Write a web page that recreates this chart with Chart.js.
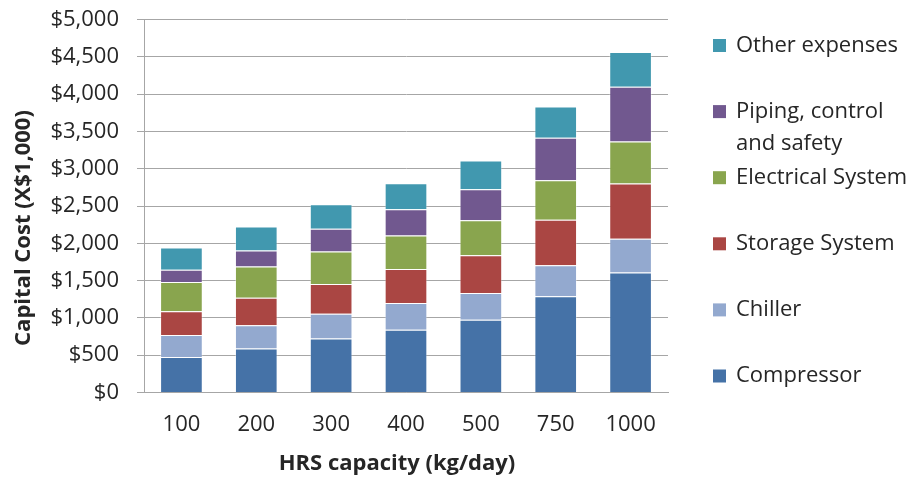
<!DOCTYPE html>
<html>
<head>
<meta charset="utf-8">
<title>HRS capital cost by capacity</title>
<script src="https://cdn.jsdelivr.net/npm/chart.js@4.4.1/dist/chart.umd.min.js"></script>
<style>
  html, body { margin: 0; padding: 0; background: #ffffff; }
  #wrap { width: 914px; height: 478px; position: relative; }
</style>
</head>
<body>
<div id="wrap"><canvas id="costChart" width="914" height="478"></canvas></div>
<script>
// Station capacity categories (kg/day)
const capacities = ['100', '200', '300', '400', '500', '750', '1000'];

// Capital cost components, in thousands of dollars
const compressor = [475, 590, 725, 840, 975, 1290, 1610];
const chiller    = [295, 310, 330, 360, 360, 415, 450];
const storage    = [320, 370, 400, 455, 505, 610, 740];
const electrical = [390, 420, 435, 450, 470, 530, 565];
const piping     = [165, 215, 305, 350, 415, 570, 735];
const otherExp   = [300, 320, 330, 350, 385, 420, 465];

// Series names, bottom of the stack first
const seriesNames = ['Compressor', 'Chiller', 'Storage System', 'Electrical System', 'Piping, control and safety', 'Other expenses'];
const seriesColors = ['#4572a7', '#93a9cf', '#aa4643', '#89a54e', '#71588f', '#4198af'];
const seriesValues = [compressor, chiller, storage, electrical, piping, otherExp];

// Value axis range
const yMin = 0;
const yMax = 5000;
const yStep = 500;

const xTitle = 'HRS capacity (kg/day)';
const yTitle = 'Capital Cost (X$1,000)';

const FONT = "'Open Sans', 'DejaVu Sans', sans-serif";
const TEXT = '#262626';
const GRID = '#a6a6a6';

// Axis titles and the right-hand legend
const decorations = {
  id: 'decorations',
  afterDraw(chart) {
    const ctx = chart.ctx;
    ctx.save();
    ctx.fillStyle = TEXT;
    ctx.font = `bold 22px ${FONT}`;
    ctx.textAlign = 'center';
    ctx.textBaseline = 'middle';
    ctx.fillText(xTitle, 397, 464);
    ctx.save();
    ctx.translate(24, 228);
    ctx.rotate(-Math.PI / 2);
    ctx.fillText(yTitle, 0, 0);
    ctx.restore();

    // Legend: top-most series first, evenly spaced entries, long names wrapped
    ctx.font = `22px ${FONT}`;
    ctx.textAlign = 'left';
    const items = chart.data.datasets.slice().reverse();
    const firstY = 45.5, stepY = 66.1, lineH = 32, maxW = 178;
    items.forEach((ds, i) => {
      const cy = firstY + i * stepY;
      ctx.fillStyle = ds.backgroundColor;
      ctx.fillRect(713, cy - 6.5, 13, 13);
      ctx.fillStyle = TEXT;
      const words = ds.label.split(' ');
      const lines = [];
      let cur = '';
      words.forEach(w => {
        const test = cur ? cur + ' ' + w : w;
        if (cur && ctx.measureText(test).width > maxW) {
          lines.push(cur);
          cur = w;
        } else {
          cur = test;
        }
      });
      lines.push(cur);
      lines.forEach((ln, k) => ctx.fillText(ln, 736, cy + k * lineH));
    });
    ctx.restore();
  }
};

new Chart(document.getElementById('costChart'), {
  type: 'bar',
  data: {
    labels: capacities,
    datasets: seriesNames.map((name, i) => ({
      label: name,
      data: seriesValues[i],
      backgroundColor: seriesColors[i],
      borderColor: 'rgba(255,255,255,0.35)',
      borderWidth: 1,
      barPercentage: 0.57,
      categoryPercentage: 1.0
    }))
  },
  options: {
    responsive: false,
    animation: false,
    devicePixelRatio: 1,
    layout: { padding: { top: 19.5, right: 246, bottom: 0, left: 0 } },
    plugins: {
      legend: { display: false },
      tooltip: { enabled: false }
    },
    scales: {
      x: {
        stacked: true,
        grid: { display: false, drawTicks: false },
        border: { display: true, color: GRID, width: 1 },
        ticks: { color: TEXT, font: { family: FONT, size: 22 }, padding: 19 },
        afterFit(scale) {
          scale.height = 85.5;
          scale.paddingLeft = 0;
          scale.paddingRight = 0;
        }
      },
      y: {
        stacked: true,
        min: yMin,
        max: yMax,
        grid: { color: GRID, lineWidth: 1, tickLength: 7, drawTicks: true },
        border: { display: true, color: GRID, width: 1 },
        ticks: {
          stepSize: yStep,
          color: TEXT,
          font: { family: FONT, size: 22 },
          padding: 18,
          callback: v => '$' + Number(v).toLocaleString('en-US')
        },
        afterFit(scale) {
          scale.width = 144;
          scale.paddingTop = 0;
          scale.paddingBottom = 0;
        }
      }
    }
  },
  plugins: [decorations]
});
</script>
</body>
</html>
